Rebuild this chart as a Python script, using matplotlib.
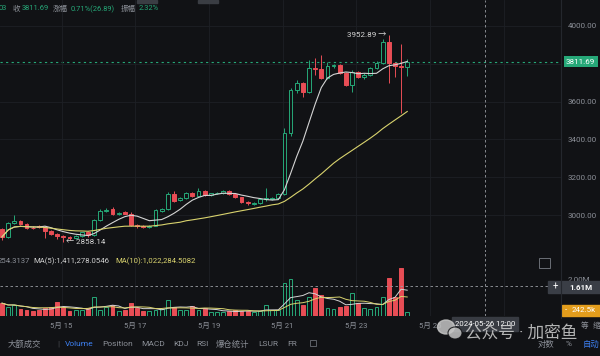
import numpy as np
import pandas as pd
import matplotlib
matplotlib.use('Agg')
import matplotlib.pyplot as plt
from matplotlib.patches import Rectangle, Ellipse
from matplotlib.lines import Line2D
import matplotlib.transforms as mtransforms

plt.rcParams['font.family'] = ['Roboto', 'Noto Sans CJK SC', 'DejaVu Sans']
plt.rcParams['axes.unicode_minus'] = False

# --- colours ---
BG = '#111215'
GRID = '#1d2025'
GREEN = '#26a878'
RED = '#e84d55'
GRAY = '#8c9098'
MA_WHITE = '#d4d4d4'
MA_YELLOW = '#d9d36e'
BLUE = '#3d80f2'

# --- data: 4h candles, 13 May -> 24 May ---
OPEN = [2926, 2884, 2958, 2968, 2950, 2934, 2942, 2937, 2915, 2900,
        2889, 2884, 2878, 2889, 2908, 2893, 2974, 3021, 3032, 3005,
        3016, 3008, 2947, 2940, 2937, 2942, 3021, 3032, 3111, 3080,
        3090, 3117, 3100, 3127, 3106, 3114, 3117, 3127, 3111, 3095,
        3069, 3060, 3064, 3085, 3084, 3092, 3111, 3434, 3661, 3698,
        3651, 3778, 3773, 3725, 3788, 3794, 3751, 3688, 3757, 3730,
        3741, 3778, 3804, 3915, 3804, 3790, 3784.80]
HIGH = [2931, 2963, 3000, 2975, 2960, 2940, 2948, 2940, 2920, 2905,
        2895, 2889, 2895, 2912, 2915, 2980, 3030, 3035, 3040, 3015,
        3022, 3016, 2952, 2945, 2947, 3032, 3037, 3120, 3125, 3095,
        3122, 3122, 3143, 3132, 3118, 3120, 3130, 3132, 3115, 3098,
        3072, 3068, 3090, 3143, 3096, 3115, 3460, 3670, 3714, 3705,
        3820, 3831, 3847, 3810, 3800, 3800, 3757, 3765, 3762, 3751,
        3785, 3815, 3931, 3952.89, 3810, 3905, 3824.80]
LOW = [2868, 2878, 2953, 2945, 2928, 2926, 2930, 2880, 2895, 2873,
       2858.14, 2870, 2873, 2884, 2884, 2888, 2970, 3016, 3000, 3002,
       3003, 2942, 2930, 2930, 2932, 2940, 3016, 3028, 3070, 3076,
       3085, 3095, 3095, 3100, 3102, 3110, 3112, 3106, 3090, 3064,
       3055, 3055, 3060, 3072, 3078, 3088, 3105, 3418, 3646, 3624,
       3645, 3741, 3720, 3720, 3780, 3745, 3680, 3651, 3725, 3720,
       3735, 3770, 3800, 3698, 3730, 3540, 3737.03]
CLOSE = [2884, 2958, 2968, 2950, 2932, 2930, 2935, 2915, 2900, 2889,
         2884, 2878, 2889, 2908, 2893, 2974, 3021, 3027, 3005, 3011,
         3008, 2947, 2940, 2937, 2942, 3027, 3032, 3111, 3074, 3090,
         3117, 3100, 3127, 3106, 3114, 3117, 3127, 3111, 3095, 3069,
         3062, 3064, 3085, 3088, 3092, 3111, 3434, 3661, 3698, 3651,
         3778, 3773, 3725, 3788, 3794, 3751, 3688, 3757, 3730, 3741,
         3778, 3804, 3915, 3804, 3790, 3784.80, 3811.69]
# volume in millions
VOLUME = [0.70, 0.50, 0.60, 0.38, 0.35, 0.25, 0.35, 0.45, 0.50, 0.78,
          0.50, 0.25, 0.30, 0.30, 0.45, 1.03, 0.35, 0.50, 0.60, 0.25,
          0.35, 0.70, 0.45, 0.25, 0.25, 0.35, 0.38, 0.87, 0.50, 0.35,
          0.30, 0.55, 0.35, 0.45, 0.20, 0.20, 0.22, 0.28, 0.30, 0.28,
          0.28, 0.20, 0.28, 0.60, 0.30, 0.30, 1.80, 2.00, 0.87, 0.60,
          1.05, 1.52, 1.14, 0.45, 0.40, 0.50, 0.55, 1.27, 0.70, 0.45,
          0.40, 0.50, 1.05, 2.07, 1.05, 2.60, 0.2425]

# 5月 27 sits under the crosshair time box, so it is left blank
DAY_LABELS = ['5月 15', '5月 17', '5月 19', '5月 21', '5月 23', '5月 25', '']
PRICE_TICKS = [3000, 3200, 3400, 3600, 3800, 4000]
LAST_PRICE = 3811.69
HIGH_MARK = 3952.89
LOW_MARK = 2858.14
CROSS_VOL = 1.61
CROSS_TIME = '2024-05-26 12:00'

W, H = 600, 356


def frac(x0, y0, x1, y1):
    return [x0 / W, 1 - y1 / H, (x1 - x0) / W, (y1 - y0) / H]


o = np.array(OPEN); h = np.array(HIGH); l = np.array(LOW); c = np.array(CLOSE)
vol = np.array(VOLUME)
idx = np.arange(len(c))
up = c >= o
cols = np.where(up, GREEN, RED)
faces = np.where(up, BG, RED)

ma7 = pd.Series(c).rolling(7, min_periods=1).mean()
ma30 = pd.Series(c).rolling(30, min_periods=1).mean()
vma5 = pd.Series(vol).rolling(5, min_periods=1).mean()
vma10 = pd.Series(vol).rolling(10, min_periods=1).mean()

# candle index -> pixel: x = 2 + 6.14 * i
XLIM = (-2 / 6.14, 559 / 6.14)
day_ticks = [9.7 + 12 * k for k in range(len(DAY_LABELS))]
cross_x = day_ticks[5] + 9

fig = plt.figure(figsize=(6, 3.56), dpi=100, facecolor=BG)

# ---- price panel ----
ax = fig.add_axes(frac(0, 0, 561, 252), facecolor=BG)
ax.set_xlim(*XLIM)
ax.set_ylim(4000 - 226 * 5.29, 4000 + 26 * 5.29)
ax.vlines(idx, l, h, colors=cols, lw=0.7, zorder=2)
body_lo = np.minimum(o, c)
body_h = np.maximum(np.abs(c - o), 3)
ax.bar(idx, body_h, bottom=body_lo, width=0.62, color=faces,
       edgecolor=cols, linewidth=0.7, zorder=3)
ax.plot(idx, ma7, color=MA_WHITE, lw=0.8, zorder=4)
ax.plot(idx, ma30, color=MA_YELLOW, lw=0.8, zorder=4)
ax.axhline(LAST_PRICE, color=GREEN, lw=0.8, ls=(0, (2, 3)), zorder=1)
ax.set_yticks(PRICE_TICKS)
# the 3800 label is hidden behind the last-price tag
ax.set_yticklabels(['' if p == 3800 else f'{p:.2f}' for p in PRICE_TICKS])
ax.yaxis.tick_right()
ax.tick_params(axis='y', length=0, pad=5, labelsize=5.8, labelcolor=GRAY)
ax.set_xticks(day_ticks)
ax.tick_params(axis='x', length=0, labelbottom=False)
ax.grid(True, color=GRID, lw=0.6)
for s in ax.spines.values():
    s.set_visible(False)
ax.axvline(cross_x, color='#9a9da3', lw=0.6, ls=(0, (3, 3)), zorder=5)
ax.text(63 - 0.45, HIGH_MARK, '3952.89 →', ha='right', va='center',
        fontsize=5.8, color='#d6d6d6', zorder=6)
ax.text(10 + 0.5, LOW_MARK, '← 2858.14', ha='left', va='center',
        fontsize=5.8, color='#d6d6d6', zorder=6)
trans = mtransforms.blended_transform_factory(ax.transAxes, ax.transData)
ax.text(1 + 5 / 561, LAST_PRICE, f'{LAST_PRICE:.2f}', transform=trans,
        ha='left', va='center', fontsize=5.8, color='white', clip_on=False,
        zorder=10, bbox=dict(boxstyle='square,pad=0.3', fc=GREEN, ec='none'))

# ---- volume panel ----
vx = fig.add_axes(frac(0, 252, 561, 316), facecolor=BG)
vx.set_xlim(*XLIM)
vx.set_ylim(0, 64 / 18.4)
vx.bar(idx, vol, width=0.62, color=faces, edgecolor=cols, linewidth=0.7, zorder=3)
vx.plot(idx, vma5, color=MA_WHITE, lw=0.7, zorder=4)
vx.plot(idx, vma10, color=MA_YELLOW, lw=0.7, zorder=4)
vx.set_yticks([2.0])
vx.set_yticklabels(['2.00M'])
vx.yaxis.tick_right()
vx.tick_params(axis='y', length=0, pad=5, labelsize=5.8, labelcolor=GRAY)
vx.set_xticks(day_ticks)
vx.set_xticklabels(DAY_LABELS)
vx.tick_params(axis='x', length=0, pad=4, labelsize=5.5, labelcolor=GRAY)
vx.grid(True, axis='x', color=GRID, lw=0.6)
for s in vx.spines.values():
    s.set_visible(False)
vx.axvline(cross_x, color='#9a9da3', lw=0.6, ls=(0, (3, 3)), zorder=5)
vx.axhline(CROSS_VOL, color='#9a9da3', lw=0.6, ls=(0, (3, 3)), zorder=5)

# ---- overlay in pixel coordinates ----
ov = fig.add_axes([0, 0, 1, 1])
ov.set_xlim(0, W)
ov.set_ylim(H, 0)
ov.axis('off')

ov.add_line(Line2D([561, 561], [0, 318], color='#24272d', lw=0.8))
ov.add_patch(Rectangle((137, 0), 20, 3, color='#3a3d43'))
ov.add_patch(Rectangle((198, 0), 20, 3, color='#3a3d43'))

# status line
for txt, x, col in [('03', -1, GREEN), ('收', 13, GRAY), ('3811.69', 22, GREEN),
                    ('涨幅', 53, GRAY), ('0.71%(26.89)', 71, GREEN),
                    ('振幅', 121, GRAY), ('2.32%', 139, GREEN)]:
    ov.text(x, 9, txt, fontsize=5.4, color=col, ha='left', va='center')

# volume MA header
for txt, x, col in [('254.3137', -2, GRAY), ('MA(5):1,411,278.0546', 33, '#cfcfcf'),
                    ('MA(10):1,022,284.5082', 115, MA_YELLOW)]:
    ov.text(x, 261, txt, fontsize=5.6, color=col, ha='left', va='center')

# expand icon
ov.add_patch(Rectangle((539, 258), 11, 10, fill=False, ec='#6a6e75', lw=0.7))

# crosshair volume label
ov.add_patch(Rectangle((548, 281), 52, 12, color='#3a3e46'))
ov.text(555, 287, '+', fontsize=7, color='white', ha='center', va='center')
ov.text(581, 287, '1.61M', fontsize=5.8, color='white', ha='center', va='center',
        fontweight='bold')
# current volume label
ov.add_patch(Rectangle((562, 305), 38, 11, color='#e39d1c'))
ov.text(566, 310.5, '-', fontsize=5.8, color='white', ha='center', va='center')
ov.text(584, 310.5, '242.5k', fontsize=5.8, color='white', ha='center', va='center')

# crosshair time label
ov.add_patch(Rectangle((452, 317), 66, 14, color='#383b42'))
ov.text(485, 324, CROSS_TIME, fontsize=5.6, color='white', ha='center', va='center')
ov.text(585, 325, '等', fontsize=5.5, color=GRAY, ha='center', va='center')
ov.text(596, 325, '缩', fontsize=5.5, color=GRAY, ha='center', va='center')

# tab bar
tabs = [('大额成交', 8, GRAY), ('|', 57, '#4a4d54'), ('Volume', 65, BLUE),
        ('Position', 102, GRAY), ('MACD', 141, GRAY), ('KDJ', 173, GRAY),
        ('RSI', 196, GRAY), ('爆仓统计', 216, GRAY), ('LSUR', 258, GRAY),
        ('FR', 287, GRAY), ('对数', 538, GRAY), ('%', 566, GRAY), ('自动', 583, BLUE)]
for txt, x, col in tabs:
    ov.text(x, 344, txt, fontsize=6, color=col, ha='left', va='center')
ov.add_patch(Rectangle((310, 340), 6, 6, fill=False, ec='#6a6e75', lw=0.6))

# watermark
ov.add_patch(Ellipse((446, 327), 17, 14, color='#c4c4c4', alpha=0.85))
ov.add_patch(Ellipse((455, 333), 14, 12, color='#c4c4c4', alpha=0.85, ec=BG, lw=0.8))
ov.text(465, 333, '公众号 · 加密鱼', fontsize=12, color='#d0d0d0', alpha=0.85,
        ha='left', va='center')

fig.savefig('out.png', dpi=100, facecolor=BG)
